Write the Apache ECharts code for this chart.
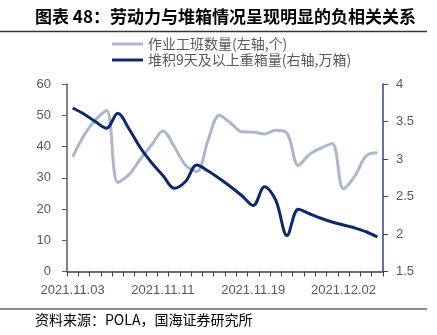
<!DOCTYPE html>
<html><head><meta charset="utf-8">
<script src="https://cdn.jsdelivr.net/npm/echarts@6/dist/echarts.min.js"></script>
<style>html,body{margin:0;padding:0;background:#fff}#c{width:437px;height:335px}</style>
</head><body><div id="c"></div>
<script>
const categories = ['2021.11.03','2021.11.04','2021.11.05','2021.11.06','2021.11.07','2021.11.08','2021.11.09','2021.11.10',
  '2021.11.11','2021.11.12','2021.11.13','2021.11.14','2021.11.15','2021.11.16','2021.11.17','2021.11.18',
  '2021.11.19','2021.11.20','2021.11.22','2021.11.23','2021.11.24','2021.11.25','2021.11.26','2021.11.29',
  '2021.12.02','2021.12.03','2021.12.06','2021.12.07'];
const workShifts = [36.7,43.5,48.5,51.5,28.5,31,36,40.5,45,40,34,32,42,50,47.5,44.7,44.6,44,45.2,44.3,34,37.5,39.5,41,26.5,30.5,37,38];
const stockedBoxes = [3.68,3.6,3.5,3.41,3.61,3.4,3.15,2.95,2.78,2.61,2.7,2.92,2.84,2.74,2.63,2.51,2.38,2.63,2.45,1.98,2.33,2.27,2.21,2.16,2.12,2.08,2.03,1.96];
const leftTicks = {min:0, max:60, interval:10};
const rightTicks = {min:1.5, max:4, interval:0.5};
const seriesNames = ['作业工班数量(左轴,个)','堆积9天及以上重箱量(右轴,万箱)'];
const titleText = '图表 48：劳动力与堆箱情况呈现明显的负相关关系';
const sourceText = '资料来源：POLA，国海证券研究所';

const LIGHT = '#a9b7cf', DARK = '#0c2a6b', GREY = '#595959';
const chart = echarts.init(document.getElementById('c'), null, {renderer:'canvas'});
chart.setOption({
  animation:false,
  backgroundColor:'#fff',
  graphic:[
    {type:'text', left:35, top:8, style:{text:titleText, font:'bold 17px "Noto Sans CJK SC"', fill:'#000'}},
    {type:'line', shape:{x1:0,y1:31.5,x2:427,y2:31.5}, style:{stroke:'#333',lineWidth:1.5}},
    {type:'line', shape:{x1:0,y1:309,x2:427,y2:309}, style:{stroke:'#8c8c8c',lineWidth:2}},
    {type:'text', left:35, top:313, style:{text:sourceText, font:'14px "Noto Sans CJK SC"', fill:'#000'}}
  ],
  legend:{
    orient:'vertical', left:107, top:32, itemWidth:31, itemHeight:3, itemGap:2, icon:'rect',
    textStyle:{color:GREY, fontSize:14, fontFamily:'"Noto Sans CJK SC"', padding:[0,0,0,0]},
    data:seriesNames
  },
  grid:{left:67, right:54, top:84, bottom:63.5},
  xAxis:{
    type:'category', data:categories, boundaryGap:true,
    axisLine:{lineStyle:{color:'#404040', width:1.5}},
    axisTick:{show:true, interval:0, length:5, lineStyle:{color:'#404040'}},
    axisLabel:{interval:7, color:GREY, fontSize:13, fontFamily:'"Liberation Sans"', margin:12}
  },
  yAxis:[
    {type:'value', position:'left', min:leftTicks.min, max:leftTicks.max, interval:leftTicks.interval,
     splitLine:{show:false},
     axisLine:{show:true, lineStyle:{color:'#595959', width:1.5}},
     axisTick:{show:true, length:5, lineStyle:{color:'#595959'}},
     axisLabel:{color:GREY, fontSize:13, fontFamily:'"Liberation Sans"', margin:16}},
    {type:'value', position:'right', min:rightTicks.min, max:rightTicks.max, interval:rightTicks.interval,
     splitLine:{show:false},
     axisLine:{show:true, lineStyle:{color:'#2b4585', width:1.5}},
     axisTick:{show:true, length:5, lineStyle:{color:'#2b4585'}},
     axisLabel:{color:GREY, fontSize:13, fontFamily:'"Liberation Sans"', margin:13}}
  ],
  series:[
    {name:seriesNames[0], type:'line', yAxisIndex:0, data:workShifts, smooth:0.35, symbol:'none',
     lineStyle:{color:LIGHT, width:3}, itemStyle:{color:LIGHT}},
    {name:seriesNames[1], type:'line', yAxisIndex:1, data:stockedBoxes, smooth:0.35, symbol:'none',
     lineStyle:{color:DARK, width:3}, itemStyle:{color:DARK}}
  ]
});
</script></body></html>
